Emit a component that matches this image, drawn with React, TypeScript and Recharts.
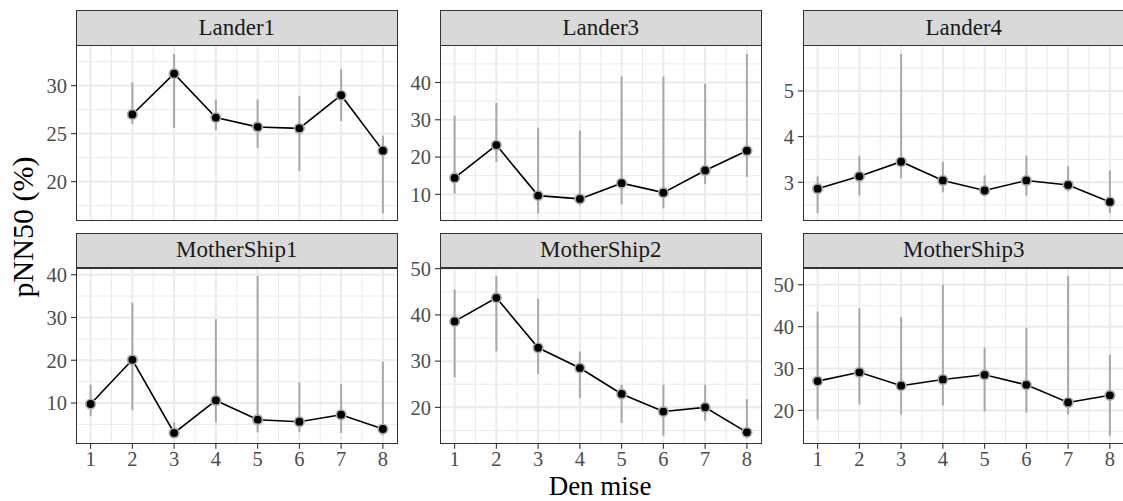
import React from 'react';
import { ComposedChart, Line, XAxis, YAxis, CartesianGrid, ErrorBar } from 'recharts';

const days = [1, 2, 3, 4, 5, 6, 7, 8];
const xMinor = [1.5, 2.5, 3.5, 4.5, 5.5, 6.5, 7.5];

// pNN50 means and interval ends per day (null = no recording)
const lander1Mean = [null, 27.0, 31.25, 26.67, 25.7, 25.55, 29.0, 23.23];
const lander1Low = [null, 26.0, 25.6, 25.35, 23.5, 21.1, 26.3, 16.7];
const lander1High = [null, 30.35, 33.3, 28.55, 28.55, 28.9, 31.7, 24.8];

const lander3Mean = [14.4, 23.2, 9.65, 8.77, 13.0, 10.45, 16.4, 21.7];
const lander3Low = [10.2, 18.7, 4.9, 7.0, 7.3, 6.25, 12.8, 14.65];
const lander3High = [31.1, 34.5, 27.9, 27.1, 41.6, 41.6, 39.65, 47.65];

const lander4Mean = [2.86, 3.13, 3.45, 3.04, 2.82, 3.04, 2.94, 2.57];
const lander4Low = [2.32, 2.71, 3.09, 2.78, 2.69, 2.71, 2.8, 2.33];
const lander4High = [3.13, 3.58, 5.81, 3.45, 3.15, 3.58, 3.35, 3.26];

const ms1Mean = [9.77, 20.1, 3.0, 10.6, 6.1, 5.63, 7.27, 3.93];
const ms1Low = [6.9, 8.3, 2.36, 5.56, 3.13, 3.2, 3.0, 2.45];
const ms1High = [14.3, 33.4, 5.56, 29.6, 39.7, 14.8, 14.4, 19.7];

const ms2Mean = [38.6, 43.7, 32.9, 28.5, 22.9, 19.1, 20.0, 14.6];
const ms2Low = [26.5, 32.1, 27.2, 22.0, 16.6, 13.87, 17.1, 13.95];
const ms2High = [45.5, 48.42, 43.5, 32.1, 24.9, 24.9, 24.9, 21.8];

const ms3Mean = [27.0, 29.1, 25.9, 27.4, 28.5, 26.1, 21.9, 23.6];
const ms3Low = [17.8, 21.4, 19.0, 21.2, 19.8, 19.5, 19.0, 13.96];
const ms3High = [43.6, 44.4, 42.3, 50.0, 35.0, 39.7, 52.1, 33.3];

const lander1Ticks = [20, 25, 30];
const lander1Minor = [17.5, 22.5, 27.5, 32.5];
const lander3Ticks = [10, 20, 30, 40];
const lander3Minor = [5, 15, 25, 35, 45];
const lander4Ticks = [3, 4, 5];
const lander4Minor = [2.5, 3.5, 4.5, 5.5];
const ms1Ticks = [10, 20, 30, 40];
const ms1Minor = [5, 15, 25, 35];
const ms2Ticks = [20, 30, 40, 50];
const ms2Minor = [15, 25, 35, 45];
const ms3Ticks = [20, 30, 40, 50];
const ms3Minor = [15, 25, 35, 45];

const panels = [
  { name: 'Lander1', mean: lander1Mean, low: lander1Low, high: lander1High, ticks: lander1Ticks, minor: lander1Minor },
  { name: 'Lander3', mean: lander3Mean, low: lander3Low, high: lander3High, ticks: lander3Ticks, minor: lander3Minor },
  { name: 'Lander4', mean: lander4Mean, low: lander4Low, high: lander4High, ticks: lander4Ticks, minor: lander4Minor },
  { name: 'MotherShip1', mean: ms1Mean, low: ms1Low, high: ms1High, ticks: ms1Ticks, minor: ms1Minor },
  { name: 'MotherShip2', mean: ms2Mean, low: ms2Low, high: ms2High, ticks: ms2Ticks, minor: ms2Minor },
  { name: 'MotherShip3', mean: ms3Mean, low: ms3Low, high: ms3High, ticks: ms3Ticks, minor: ms3Minor },
];

const FONT = '"Liberation Serif", "DejaVu Serif", serif';
const colLeft = [76, 440, 803];
const panelW = 321.5;
const axisW = 70;
const topPad = 16;
const tickFont = 20.5;
const rows = [
  { stripTop: 10.3, plotTop: 46, plotH: 175.3 },
  { stripTop: 232.7, plotTop: 268.3, plotH: 175.7 },
];

const renderDot = (props: any) => {
  const { cx, cy, index } = props;
  if (cx == null || cy == null) return <g key={`d-${index}`} />;
  return (
    <g key={`d-${index}`}>
      <circle cx={cx} cy={cy} r={5.6} fill="#ABABAB" />
      <circle cx={cx} cy={cy} r={3.9} fill="#000000" />
    </g>
  );
};

function Panel({ p, idx }: any) {
  const col = idx % 3;
  const row = rows[Math.floor(idx / 3)];
  const bottom = idx >= 3;
  const data = days
    .map((d, i) => ({
      x: d,
      y: p.mean[i],
      err: p.mean[i] == null ? null : [p.mean[i] - p.low[i], p.high[i] - p.mean[i]],
    }))
    .filter((r) => r.y != null);
  const lo = Math.min(...p.low.filter((v: any) => v != null));
  const hi = Math.max(...p.high.filter((v: any) => v != null));
  const pad = (hi - lo) * 0.05;
  const chartH = topPad + row.plotH + (bottom ? 28 : 0);

  return (
    <>
      <div style={{ position: 'absolute', left: colLeft[col] - axisW, top: row.plotTop - topPad }}>
        <ComposedChart
          width={axisW + panelW}
          height={chartH}
          data={data}
          margin={{ top: topPad, right: 0, bottom: 0, left: 0 }}
          style={{ fontFamily: FONT }}
        >
          <CartesianGrid horizontalValues={p.minor} verticalValues={xMinor} stroke="#EBEBEB" strokeWidth={1} fill="none" />
          <CartesianGrid horizontalValues={p.ticks} verticalValues={days} stroke="#EBEBEB" strokeWidth={2} fill="none" />
          <XAxis
            type="number"
            dataKey="x"
            domain={[0.65, 8.35]}
            ticks={days}
            interval={0}
            allowDataOverflow
            hide={!bottom}
            height={28}
            axisLine={false}
            tickSize={5}
            tickMargin={3}
            tickLine={{ stroke: '#333333', strokeWidth: 1.1 }}
            tick={{ fill: '#4D4D4D', fontSize: tickFont, fontFamily: FONT }}
          />
          <YAxis
            type="number"
            domain={[lo - pad, hi + pad]}
            ticks={p.ticks}
            interval={0}
            allowDataOverflow
            width={axisW}
            axisLine={false}
            tickSize={5}
            tickMargin={4}
            tickLine={{ stroke: '#333333', strokeWidth: 1.1 }}
            tick={{ fill: '#4D4D4D', fontSize: tickFont, fontFamily: FONT }}
          />
          <Line
            type="linear"
            dataKey="y"
            stroke="#000000"
            strokeWidth={1.6}
            dot={renderDot}
            activeDot={false}
            isAnimationActive={false}
          >
            <ErrorBar dataKey="err" width={0} stroke="#A8A8A8" strokeWidth={2} direction="y" isAnimationActive={false} />
          </Line>
        </ComposedChart>
      </div>
      <div
        style={{
          position: 'absolute',
          left: colLeft[col],
          top: row.stripTop,
          width: panelW,
          height: row.plotTop - row.stripTop,
          background: '#D9D9D9',
          border: '1.3px solid #333333',
          boxSizing: 'border-box',
          display: 'flex',
          alignItems: 'center',
          justifyContent: 'center',
          fontFamily: FONT,
          fontSize: 23,
          color: '#1A1A1A',
        }}
      >
        {p.name}
      </div>
      <div
        style={{
          position: 'absolute',
          left: colLeft[col],
          top: row.plotTop - 0.6,
          width: panelW,
          height: row.plotH + 0.6,
          border: '1.3px solid #333333',
          boxSizing: 'border-box',
          pointerEvents: 'none',
        }}
      />
    </>
  );
}

export default function App() {
  return (
    <div
      style={{
        position: 'absolute',
        left: 0,
        top: 0,
        width: 1123,
        height: 501,
        overflow: 'hidden',
        background: '#FFFFFF',
        fontFamily: FONT,
      }}
    >
      {panels.map((p, i) => (
        <Panel key={p.name} p={p} idx={i} />
      ))}
      <div
        style={{
          position: 'absolute',
          left: 600,
          top: 471,
          height: 30,
          transform: 'translateX(-50%)',
          fontSize: 27,
          lineHeight: '30px',
          color: '#000',
          whiteSpace: 'nowrap',
        }}
      >
        Den mise
      </div>
      <div
        style={{
          position: 'absolute',
          left: 23,
          top: 227,
          transform: 'translate(-50%, -50%) rotate(-90deg)',
          fontSize: 30,
          lineHeight: 1,
          color: '#000',
          whiteSpace: 'nowrap',
        }}
      >
        pNN50 (%)
      </div>
    </div>
  );
}
